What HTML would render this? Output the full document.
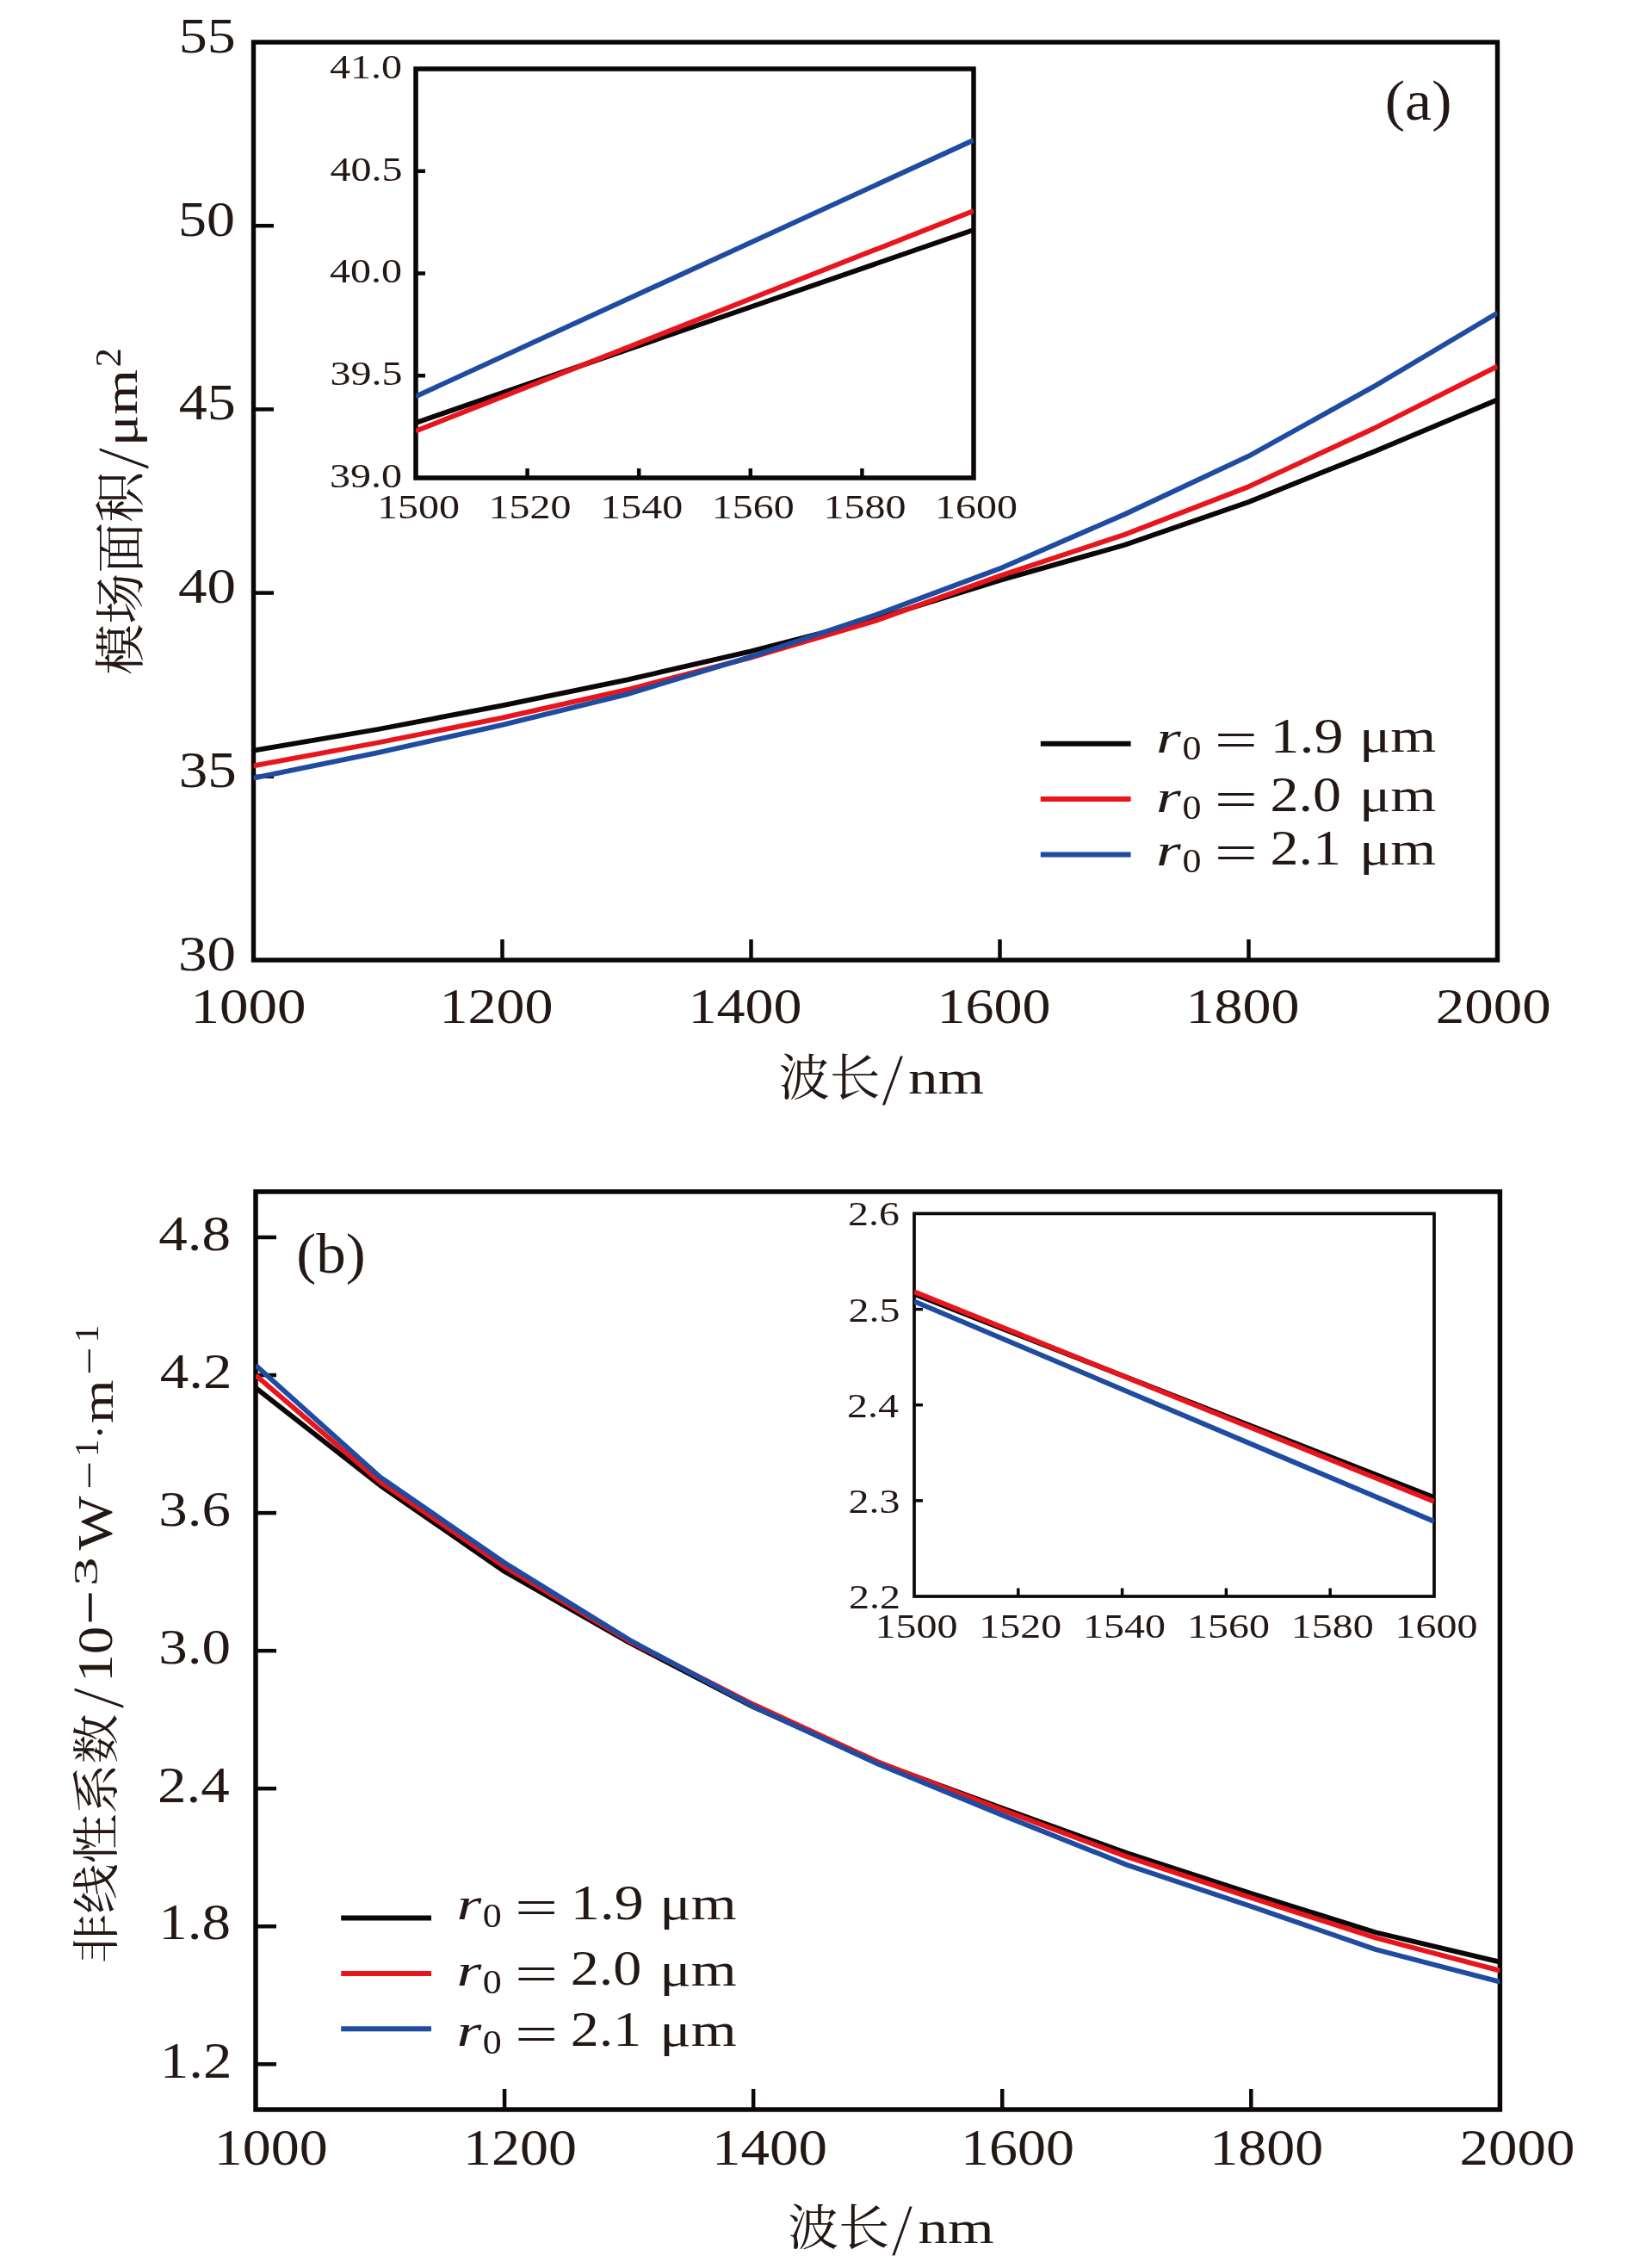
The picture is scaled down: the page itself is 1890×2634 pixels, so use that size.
<!DOCTYPE html>
<html><head><meta charset="utf-8"><title>figure</title><style>html,body{margin:0;padding:0;background:#fff;overflow:hidden}svg{display:block;will-change:transform}</style></head><body>
<svg width="1890" height="2634" viewBox="0 0 1890 2634"><defs><clipPath id="ca"><rect x="294.5" y="49" width="1445" height="1066"/></clipPath><clipPath id="cia"><rect x="483" y="80" width="648" height="475"/></clipPath><clipPath id="cb"><rect x="297" y="1384" width="1445.4" height="1066"/></clipPath><clipPath id="cjb"><rect x="1062" y="1409.4" width="604" height="444.6"/></clipPath></defs><rect width="1890" height="2634" fill="#fff"/><rect x="294.5" y="49" width="1445" height="1066" fill="none" stroke="#0c0707" stroke-width="5.4"/>
<line x1="294.5" y1="262.2" x2="318" y2="262.2" stroke="#0c0707" stroke-width="4.5" stroke-linecap="butt"/>
<line x1="294.5" y1="475.4" x2="318" y2="475.4" stroke="#0c0707" stroke-width="4.5" stroke-linecap="butt"/>
<line x1="294.5" y1="688.6" x2="318" y2="688.6" stroke="#0c0707" stroke-width="4.5" stroke-linecap="butt"/>
<line x1="294.5" y1="901.8" x2="318" y2="901.8" stroke="#0c0707" stroke-width="4.5" stroke-linecap="butt"/>
<line x1="583.5" y1="1115" x2="583.5" y2="1091" stroke="#0c0707" stroke-width="4.5" stroke-linecap="butt"/>
<line x1="872.5" y1="1115" x2="872.5" y2="1091" stroke="#0c0707" stroke-width="4.5" stroke-linecap="butt"/>
<line x1="1161.5" y1="1115" x2="1161.5" y2="1091" stroke="#0c0707" stroke-width="4.5" stroke-linecap="butt"/>
<line x1="1450.5" y1="1115" x2="1450.5" y2="1091" stroke="#0c0707" stroke-width="4.5" stroke-linecap="butt"/>
<rect x="483" y="80" width="648" height="475" fill="#fff" stroke="none"/>
<rect x="483" y="80" width="648" height="475" fill="none" stroke="#0c0707" stroke-width="5.5"/>
<line x1="483" y1="198.75" x2="494" y2="198.75" stroke="#0c0707" stroke-width="4.5" stroke-linecap="butt"/>
<line x1="483" y1="317.5" x2="494" y2="317.5" stroke="#0c0707" stroke-width="4.5" stroke-linecap="butt"/>
<line x1="483" y1="436.25" x2="494" y2="436.25" stroke="#0c0707" stroke-width="4.5" stroke-linecap="butt"/>
<line x1="612.6" y1="555" x2="612.6" y2="544" stroke="#0c0707" stroke-width="4.5" stroke-linecap="butt"/>
<line x1="742.2" y1="555" x2="742.2" y2="544" stroke="#0c0707" stroke-width="4.5" stroke-linecap="butt"/>
<line x1="871.8" y1="555" x2="871.8" y2="544" stroke="#0c0707" stroke-width="4.5" stroke-linecap="butt"/>
<line x1="1001.4" y1="555" x2="1001.4" y2="544" stroke="#0c0707" stroke-width="4.5" stroke-linecap="butt"/>
<polyline points="294.5,871.6 439,847 583.5,819.4 728,789.7 872.5,756.3 1017,719 1161.5,673.9 1306,633 1450.5,583 1595,525 1739.5,464.2" fill="none" stroke="#0c0707" stroke-width="5.8" stroke-linejoin="round" clip-path="url(#ca)"/>
<polyline points="294.5,889.3 439,862.5 583.5,833.7 728,801.2 872.5,763.6 1017,721 1161.5,668.7 1306,621 1450.5,565.2 1595,498 1739.5,425.4" fill="none" stroke="#e8151d" stroke-width="5.8" stroke-linejoin="round" clip-path="url(#ca)"/>
<polyline points="294.5,903.6 439,874.2 583.5,841.8 728,806.4 872.5,762.6 1017,714.3 1161.5,660.3 1306,597.5 1450.5,529.7 1595,449.4 1739.5,363.4" fill="none" stroke="#1f4ca0" stroke-width="5.8" stroke-linejoin="round" clip-path="url(#ca)"/>
<polyline points="483,491 1131,267" fill="none" stroke="#0c0707" stroke-width="5.8" stroke-linejoin="round" clip-path="url(#cia)"/>
<polyline points="483,500.5 1131,244.9" fill="none" stroke="#e8151d" stroke-width="5.8" stroke-linejoin="round" clip-path="url(#cia)"/>
<polyline points="483,460.4 1131,162.7" fill="none" stroke="#1f4ca0" stroke-width="5.8" stroke-linejoin="round" clip-path="url(#cia)"/>
<g fill="#231815">
<text transform="matrix(0.66 0 0 0.58 207.66 60.82)" font-family="'Liberation Serif',serif" font-size="100">55</text>
<text transform="matrix(0.66 0 0 0.58 207 274.02)" font-family="'Liberation Serif',serif" font-size="100">50</text>
<text transform="matrix(0.66 0 0 0.59 207.66 487.22)" font-family="'Liberation Serif',serif" font-size="100">45</text>
<text transform="matrix(0.67 0 0 0.58 206.99 700.42)" font-family="'Liberation Serif',serif" font-size="100">40</text>
<text transform="matrix(0.67 0 0 0.59 207.66 913.91)" font-family="'Liberation Serif',serif" font-size="100">35</text>
<text transform="matrix(0.67 0 0 0.58 207 1126.82)" font-family="'Liberation Serif',serif" font-size="100">30</text>
<text transform="matrix(0.67 0 0 0.58 221.54 1187.92)" font-family="'Liberation Serif',serif" font-size="100">1000</text>
<text transform="matrix(0.66 0 0 0.58 510.54 1187.92)" font-family="'Liberation Serif',serif" font-size="100">1200</text>
<text transform="matrix(0.66 0 0 0.58 799.54 1187.92)" font-family="'Liberation Serif',serif" font-size="100">1400</text>
<text transform="matrix(0.66 0 0 0.58 1088.54 1187.92)" font-family="'Liberation Serif',serif" font-size="100">1600</text>
<text transform="matrix(0.66 0 0 0.58 1377.54 1187.92)" font-family="'Liberation Serif',serif" font-size="100">1800</text>
<text transform="matrix(0.67 0 0 0.58 1667.87 1187.92)" font-family="'Liberation Serif',serif" font-size="100">2000</text>
<text transform="matrix(0.48 0 0 0.41 383.08 90.99)" font-family="'Liberation Serif',serif" font-size="100">41.0</text>
<text transform="matrix(0.48 0 0 0.41 383.56 209.74)" font-family="'Liberation Serif',serif" font-size="100">40.5</text>
<text transform="matrix(0.48 0 0 0.41 383.08 328.49)" font-family="'Liberation Serif',serif" font-size="100">40.0</text>
<text transform="matrix(0.48 0 0 0.41 383.56 447.44)" font-family="'Liberation Serif',serif" font-size="100">39.5</text>
<text transform="matrix(0.48 0 0 0.41 383.08 565.99)" font-family="'Liberation Serif',serif" font-size="100">39.0</text>
<text transform="matrix(0.48 0 0 0.41 438 601.99)" font-family="'Liberation Serif',serif" font-size="100">1500</text>
<text transform="matrix(0.48 0 0 0.41 567.61 601.99)" font-family="'Liberation Serif',serif" font-size="100">1520</text>
<text transform="matrix(0.48 0 0 0.41 697.21 601.99)" font-family="'Liberation Serif',serif" font-size="100">1540</text>
<text transform="matrix(0.48 0 0 0.41 826.8 601.99)" font-family="'Liberation Serif',serif" font-size="100">1560</text>
<text transform="matrix(0.48 0 0 0.41 956.4 601.99)" font-family="'Liberation Serif',serif" font-size="100">1580</text>
<text transform="matrix(0.48 0 0 0.41 1086 601.99)" font-family="'Liberation Serif',serif" font-size="100">1600</text>
<text transform="matrix(0.59 0 0 0.58 904.65 1271.77)" font-family="'Noto Serif CJK SC',serif" font-size="100">波长</text>
<text transform="matrix(0.93 0 0 0.87 1024 1283.27)" font-family="'Liberation Serif',serif" font-size="100" stroke="#fff" stroke-width="1.3">/</text>
<text transform="matrix(0.69 0 0 0.54 1055.12 1269.76)" font-family="'Liberation Serif',serif" font-size="100">nm</text>
<text transform="matrix(0 -0.59 0.59 0 161.18 783.78)" font-family="'Noto Serif CJK SC',serif" font-size="100">模场面积</text>
<text transform="matrix(0 -0.93 0.87 0 171.95 545.3)" font-family="'Liberation Serif',serif" font-size="100" stroke="#fff" stroke-width="1.3">/</text>
<text transform="matrix(0 -0.68 0.54 0 158.5 518.32)" font-family="'Liberation Serif',serif" font-size="100">μm</text>
<text transform="matrix(0 -0.45 0.42 0 140.48 426.5)" font-family="'Liberation Serif',serif" font-size="100">2</text>
<text transform="matrix(0.7 0 0 0.65 1608.81 138.87)" font-family="'Liberation Serif',serif" font-size="100">(a)</text>
</g>
<line x1="1208.8" y1="863.8" x2="1313.6" y2="863.8" stroke="#0c0707" stroke-width="6" stroke-linecap="butt"/>
<line x1="1208.8" y1="927.9" x2="1313.6" y2="927.9" stroke="#e8151d" stroke-width="6" stroke-linecap="butt"/>
<line x1="1208.8" y1="992.4" x2="1313.6" y2="992.4" stroke="#1f4ca0" stroke-width="6" stroke-linecap="butt"/>
<g fill="#231815">
<text transform="matrix(0.74 0 0 0.53 1343.03 873.7)" font-family="'Liberation Serif',serif" font-style="italic" font-size="100">r</text>
<text transform="matrix(0.44 0 0 0.41 1373.47 882.08)" font-family="'Liberation Serif',serif" font-size="100">0</text>
<text transform="matrix(0.89 0 0 0.59 1410.64 879.25)" font-family="'Liberation Serif',serif" font-size="100">=</text>
<text transform="matrix(0.68 0 0 0.58 1475.39 873.52)" font-family="'Liberation Serif',serif" font-size="100">1.9</text>
<text transform="matrix(0.68 0 0 0.55 1578.89 873.41)" font-family="'Liberation Serif',serif" font-size="100">μm</text>
<text transform="matrix(0.74 0 0 0.53 1343.03 942.5)" font-family="'Liberation Serif',serif" font-style="italic" font-size="100">r</text>
<text transform="matrix(0.44 0 0 0.41 1373.47 950.88)" font-family="'Liberation Serif',serif" font-size="100">0</text>
<text transform="matrix(0.89 0 0 0.59 1410.64 948.05)" font-family="'Liberation Serif',serif" font-size="100">=</text>
<text transform="matrix(0.66 0 0 0.57 1475.44 941.76)" font-family="'Liberation Serif',serif" font-size="100">2.0</text>
<text transform="matrix(0.68 0 0 0.55 1578.89 942.21)" font-family="'Liberation Serif',serif" font-size="100">μm</text>
<text transform="matrix(0.74 0 0 0.53 1343.03 1004.6)" font-family="'Liberation Serif',serif" font-style="italic" font-size="100">r</text>
<text transform="matrix(0.44 0 0 0.41 1373.47 1012.98)" font-family="'Liberation Serif',serif" font-size="100">0</text>
<text transform="matrix(0.89 0 0 0.59 1410.64 1010.15)" font-family="'Liberation Serif',serif" font-size="100">=</text>
<text transform="matrix(0.66 0 0 0.58 1475.47 1004.42)" font-family="'Liberation Serif',serif" font-size="100">2.1</text>
<text transform="matrix(0.68 0 0 0.55 1578.89 1004.31)" font-family="'Liberation Serif',serif" font-size="100">μm</text>
</g>
<rect x="297" y="1384" width="1445.4" height="1066" fill="none" stroke="#0c0707" stroke-width="5.5"/>
<line x1="297" y1="1437" x2="321" y2="1437" stroke="#0c0707" stroke-width="4.5" stroke-linecap="butt"/>
<line x1="297" y1="1597.05" x2="321" y2="1597.05" stroke="#0c0707" stroke-width="4.5" stroke-linecap="butt"/>
<line x1="297" y1="1757.1" x2="321" y2="1757.1" stroke="#0c0707" stroke-width="4.5" stroke-linecap="butt"/>
<line x1="297" y1="1917.15" x2="321" y2="1917.15" stroke="#0c0707" stroke-width="4.5" stroke-linecap="butt"/>
<line x1="297" y1="2077.2" x2="321" y2="2077.2" stroke="#0c0707" stroke-width="4.5" stroke-linecap="butt"/>
<line x1="297" y1="2237.25" x2="321" y2="2237.25" stroke="#0c0707" stroke-width="4.5" stroke-linecap="butt"/>
<line x1="297" y1="2397.3" x2="321" y2="2397.3" stroke="#0c0707" stroke-width="4.5" stroke-linecap="butt"/>
<line x1="586.08" y1="2450" x2="586.08" y2="2426" stroke="#0c0707" stroke-width="4.5" stroke-linecap="butt"/>
<line x1="875.16" y1="2450" x2="875.16" y2="2426" stroke="#0c0707" stroke-width="4.5" stroke-linecap="butt"/>
<line x1="1164.24" y1="2450" x2="1164.24" y2="2426" stroke="#0c0707" stroke-width="4.5" stroke-linecap="butt"/>
<line x1="1453.32" y1="2450" x2="1453.32" y2="2426" stroke="#0c0707" stroke-width="4.5" stroke-linecap="butt"/>
<rect x="1062" y="1409.4" width="604" height="444.5999999999999" fill="#fff" stroke="none"/>
<rect x="1062" y="1409.4" width="604" height="444.6" fill="none" stroke="#0c0707" stroke-width="3.7"/>
<line x1="1062" y1="1520.55" x2="1072" y2="1520.55" stroke="#0c0707" stroke-width="3.5" stroke-linecap="butt"/>
<line x1="1062" y1="1631.7" x2="1072" y2="1631.7" stroke="#0c0707" stroke-width="3.5" stroke-linecap="butt"/>
<line x1="1062" y1="1742.85" x2="1072" y2="1742.85" stroke="#0c0707" stroke-width="3.5" stroke-linecap="butt"/>
<line x1="1182.8" y1="1854" x2="1182.8" y2="1844.5" stroke="#0c0707" stroke-width="3.5" stroke-linecap="butt"/>
<line x1="1303.6" y1="1854" x2="1303.6" y2="1844.5" stroke="#0c0707" stroke-width="3.5" stroke-linecap="butt"/>
<line x1="1424.4" y1="1854" x2="1424.4" y2="1844.5" stroke="#0c0707" stroke-width="3.5" stroke-linecap="butt"/>
<line x1="1545.2" y1="1854" x2="1545.2" y2="1844.5" stroke="#0c0707" stroke-width="3.5" stroke-linecap="butt"/>
<polyline points="297,1611.7 441.54,1725 586.08,1825 730.62,1907.5 875.16,1982.3 1019.7,2047 1164.24,2100 1308.78,2152.1 1453.32,2199 1597.86,2244.2 1742.4,2278.7" fill="none" stroke="#0c0707" stroke-width="5.8" stroke-linejoin="round" clip-path="url(#cb)"/>
<polyline points="297,1597.1 441.54,1721 586.08,1819.5 730.62,1905.8 875.16,1979.5 1019.7,2046.1 1164.24,2102 1308.78,2156.3 1453.32,2204 1597.86,2250.5 1742.4,2288.7" fill="none" stroke="#e8151d" stroke-width="5.8" stroke-linejoin="round" clip-path="url(#cb)"/>
<polyline points="297,1585.7 441.54,1715.4 586.08,1815 730.62,1904.3 875.16,1981.8 1019.7,2048.6 1164.24,2108 1308.78,2165.7 1453.32,2214 1597.86,2264 1742.4,2301.7" fill="none" stroke="#1f4ca0" stroke-width="5.8" stroke-linejoin="round" clip-path="url(#cb)"/>
<polyline points="1062,1503 1666,1739" fill="none" stroke="#0c0707" stroke-width="5.8" stroke-linejoin="round" clip-path="url(#cjb)"/>
<polyline points="1062,1500.2 1666,1743.8" fill="none" stroke="#e8151d" stroke-width="5.8" stroke-linejoin="round" clip-path="url(#cjb)"/>
<polyline points="1062,1511.3 1666,1767" fill="none" stroke="#1f4ca0" stroke-width="5.8" stroke-linejoin="round" clip-path="url(#cjb)"/>
<g fill="#231815">
<text transform="matrix(0.67 0 0 0.58 184.37 1452.12)" font-family="'Liberation Serif',serif" font-size="100">4.8</text>
<text transform="matrix(0.67 0 0 0.58 185.7 1612.46)" font-family="'Liberation Serif',serif" font-size="100">4.2</text>
<text transform="matrix(0.67 0 0 0.58 184.37 1772.22)" font-family="'Liberation Serif',serif" font-size="100">3.6</text>
<text transform="matrix(0.67 0 0 0.58 184.37 1932.27)" font-family="'Liberation Serif',serif" font-size="100">3.0</text>
<text transform="matrix(0.67 0 0 0.59 183.04 2092.61)" font-family="'Liberation Serif',serif" font-size="100">2.4</text>
<text transform="matrix(0.67 0 0 0.59 184.37 2252.37)" font-family="'Liberation Serif',serif" font-size="100">1.8</text>
<text transform="matrix(0.67 0 0 0.59 185.7 2412.71)" font-family="'Liberation Serif',serif" font-size="100">1.2</text>
<text transform="matrix(0.66 0 0 0.59 248.84 2514.42)" font-family="'Liberation Serif',serif" font-size="100">1000</text>
<text transform="matrix(0.66 0 0 0.59 537.92 2514.42)" font-family="'Liberation Serif',serif" font-size="100">1200</text>
<text transform="matrix(0.67 0 0 0.59 827 2514.42)" font-family="'Liberation Serif',serif" font-size="100">1400</text>
<text transform="matrix(0.66 0 0 0.59 1116.08 2514.42)" font-family="'Liberation Serif',serif" font-size="100">1600</text>
<text transform="matrix(0.66 0 0 0.59 1405.16 2514.42)" font-family="'Liberation Serif',serif" font-size="100">1800</text>
<text transform="matrix(0.67 0 0 0.59 1695.57 2514.42)" font-family="'Liberation Serif',serif" font-size="100">2000</text>
<text transform="matrix(0.48 0 0 0.41 984.98 1423.39)" font-family="'Liberation Serif',serif" font-size="100">2.6</text>
<text transform="matrix(0.48 0 0 0.41 985.46 1534.75)" font-family="'Liberation Serif',serif" font-size="100">2.5</text>
<text transform="matrix(0.48 0 0 0.41 984.03 1645.9)" font-family="'Liberation Serif',serif" font-size="100">2.4</text>
<text transform="matrix(0.48 0 0 0.41 985.46 1757.05)" font-family="'Liberation Serif',serif" font-size="100">2.3</text>
<text transform="matrix(0.48 0 0 0.41 985.94 1868.19)" font-family="'Liberation Serif',serif" font-size="100">2.2</text>
<text transform="matrix(0.48 0 0 0.41 1016.5 1901.99)" font-family="'Liberation Serif',serif" font-size="100">1500</text>
<text transform="matrix(0.48 0 0 0.41 1137.3 1901.99)" font-family="'Liberation Serif',serif" font-size="100">1520</text>
<text transform="matrix(0.48 0 0 0.41 1258.1 1901.99)" font-family="'Liberation Serif',serif" font-size="100">1540</text>
<text transform="matrix(0.48 0 0 0.41 1378.9 1901.99)" font-family="'Liberation Serif',serif" font-size="100">1560</text>
<text transform="matrix(0.48 0 0 0.41 1499.7 1901.99)" font-family="'Liberation Serif',serif" font-size="100">1580</text>
<text transform="matrix(0.48 0 0 0.41 1620.5 1901.99)" font-family="'Liberation Serif',serif" font-size="100">1600</text>
<text transform="matrix(0.59 0 0 0.57 915.15 2606.84)" font-family="'Noto Serif CJK SC',serif" font-size="100">波长</text>
<text transform="matrix(0.9 0 0 0.86 1035.5 2618.58)" font-family="'Liberation Serif',serif" font-size="100" stroke="#fff" stroke-width="1.3">/</text>
<text transform="matrix(0.69 0 0 0.52 1066.61 2605.18)" font-family="'Liberation Serif',serif" font-size="100">nm</text>
<text transform="matrix(0 -0.58 0.55 0 130.94 2280.44)" font-family="'Noto Serif CJK SC',serif" font-size="100">非线性系数</text>
<text transform="matrix(0 -0.89 0.86 0 143.49 1984.6)" font-family="'Liberation Serif',serif" font-size="100" stroke="#fff" stroke-width="1.3">/</text>
<text transform="matrix(0 -0.65 0.57 0 130.26 1953.67)" font-family="'Liberation Serif',serif" font-size="100">10</text>
<text transform="matrix(0 -0.71 0.76 0 129.76 1887.06)" font-family="'Liberation Serif',serif" font-size="100">−</text>
<text transform="matrix(0 -0.67 0.41 0 113.39 1842.09)" font-family="'Liberation Serif',serif" font-size="100">3</text>
<text transform="matrix(0 -0.67 0.58 0 130.34 1800.6)" font-family="'Liberation Serif',serif" font-size="100">W</text>
<text transform="matrix(0 -0.59 0.46 0 119.46 1729.76)" font-family="'Liberation Serif',serif" font-size="100">−</text>
<text transform="matrix(0 -0.41 0.41 0 114 1692.09)" font-family="'Liberation Serif',serif" font-size="100">1</text>
<text transform="matrix(0 -0.5 0.5 0 132.5 1671.5)" font-family="'Liberation Serif',serif" font-size="100">·</text>
<text transform="matrix(0 -0.65 0.53 0 131.1 1653.1)" font-family="'Liberation Serif',serif" font-size="100">m</text>
<text transform="matrix(0 -0.58 0.46 0 119.46 1596.8)" font-family="'Liberation Serif',serif" font-size="100">−</text>
<text transform="matrix(0 -0.41 0.41 0 114 1559.19)" font-family="'Liberation Serif',serif" font-size="100">1</text>
<text transform="matrix(0.69 0 0 0.66 344.23 1478.13)" font-family="'Liberation Serif',serif" font-size="100">(b)</text>
</g>
<line x1="396.2" y1="2227.6" x2="501" y2="2227.6" stroke="#0c0707" stroke-width="6" stroke-linecap="butt"/>
<line x1="396.2" y1="2291.9" x2="501" y2="2291.9" stroke="#e8151d" stroke-width="6" stroke-linecap="butt"/>
<line x1="396.2" y1="2356.2" x2="501" y2="2356.2" stroke="#1f4ca0" stroke-width="6" stroke-linecap="butt"/>
<g fill="#231815">
<text transform="matrix(0.74 0 0 0.53 530.43 2229.4)" font-family="'Liberation Serif',serif" font-style="italic" font-size="100">r</text>
<text transform="matrix(0.44 0 0 0.41 560.87 2237.78)" font-family="'Liberation Serif',serif" font-size="100">0</text>
<text transform="matrix(0.89 0 0 0.59 598.04 2234.95)" font-family="'Liberation Serif',serif" font-size="100">=</text>
<text transform="matrix(0.68 0 0 0.58 662.79 2229.22)" font-family="'Liberation Serif',serif" font-size="100">1.9</text>
<text transform="matrix(0.68 0 0 0.55 766.29 2229.11)" font-family="'Liberation Serif',serif" font-size="100">μm</text>
<text transform="matrix(0.74 0 0 0.53 530.43 2306.2)" font-family="'Liberation Serif',serif" font-style="italic" font-size="100">r</text>
<text transform="matrix(0.44 0 0 0.41 560.87 2314.58)" font-family="'Liberation Serif',serif" font-size="100">0</text>
<text transform="matrix(0.89 0 0 0.59 598.04 2311.75)" font-family="'Liberation Serif',serif" font-size="100">=</text>
<text transform="matrix(0.66 0 0 0.57 662.84 2305.46)" font-family="'Liberation Serif',serif" font-size="100">2.0</text>
<text transform="matrix(0.68 0 0 0.55 766.29 2305.91)" font-family="'Liberation Serif',serif" font-size="100">μm</text>
<text transform="matrix(0.74 0 0 0.53 530.43 2376.3)" font-family="'Liberation Serif',serif" font-style="italic" font-size="100">r</text>
<text transform="matrix(0.44 0 0 0.41 560.87 2384.68)" font-family="'Liberation Serif',serif" font-size="100">0</text>
<text transform="matrix(0.89 0 0 0.59 598.04 2381.85)" font-family="'Liberation Serif',serif" font-size="100">=</text>
<text transform="matrix(0.66 0 0 0.58 662.87 2376.12)" font-family="'Liberation Serif',serif" font-size="100">2.1</text>
<text transform="matrix(0.68 0 0 0.55 766.29 2376.01)" font-family="'Liberation Serif',serif" font-size="100">μm</text>
</g></svg>
</body></html>
